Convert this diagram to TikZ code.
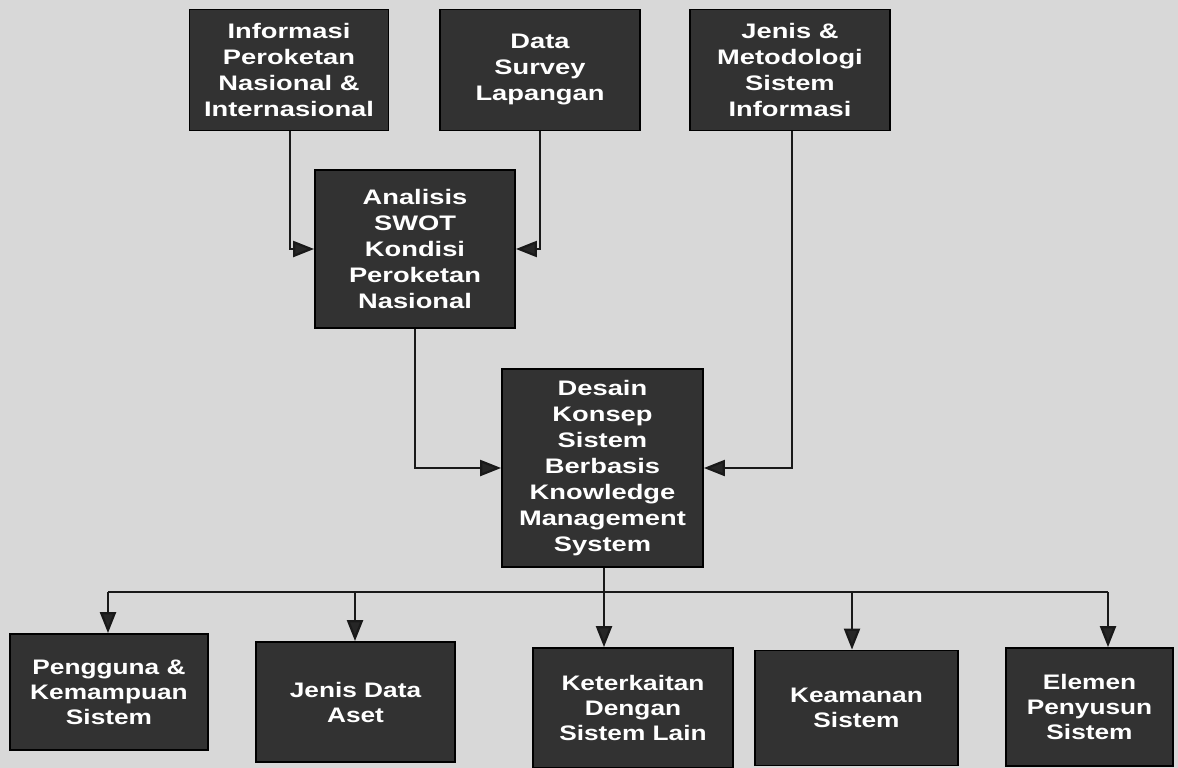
\documentclass[tikz,border=0pt]{standalone}
\usepackage{fontspec}
\setmainfont{Liberation Sans}
\newfontfamily\boxfont{Liberation Sans}[FakeStretch=1.3]
\newfontfamily\lowfont{Liberation Sans}[FakeStretch=1.25]
\usetikzlibrary{arrows.meta}
\definecolor{bg}{RGB}{216,216,216}
\definecolor{boxfill}{RGB}{50,50,50}
\begin{document}
\begin{tikzpicture}[x=1pt,y=-1pt,
  box/.style={draw=black, line width=1.8pt, fill=boxfill, text=white, align=center, inner sep=0pt,
    font=\fontsize{21}{26}\selectfont\boxfont\bfseries},
  lowbox/.style={box, font=\fontsize{21}{25}\selectfont\lowfont\bfseries},
  conn/.style={line width=2.2pt, draw=black!90},
  arr/.style={conn, -{Triangle[length=21pt,width=16pt,fill=black!85]}}]
\fill[bg] (0,0) rectangle (1178,768);
\useasboundingbox (0,0) rectangle (1178,768);

% top row
\node[box, minimum width=199pt, minimum height=121pt] (info) at (289,70) {Informasi\\Peroketan\\Nasional \&\\Internasional};
\node[box, minimum width=200pt, minimum height=121pt] (data) at (540,70) {Data\\Survey\\Lapangan};
\node[box, minimum width=200pt, minimum height=121pt] (jenis) at (790,70) {Jenis \&\\Metodologi\\Sistem\\Informasi};

% middle
\node[box, minimum width=200pt, minimum height=158pt] (swot) at (415,249) {Analisis\\SWOT\\Kondisi\\Peroketan\\Nasional};
\node[box, minimum width=201pt, minimum height=198pt] (desain) at (602.5,468) {Desain\\Konsep\\Sistem\\Berbasis\\Knowledge\\Management\\System};

% bottom row
\node[lowbox, minimum width=198pt, minimum height=116pt] (b1) at (109,692) {Pengguna \&\\Kemampuan\\Sistem};
\node[lowbox, minimum width=199pt, minimum height=120pt] (b2) at (355.5,702) {Jenis Data\\Aset};
\node[lowbox, minimum width=200pt, minimum height=120pt] (b3) at (633,708) {Keterkaitan\\Dengan\\Sistem Lain};
\node[lowbox, minimum width=203pt, minimum height=115pt] (b4) at (856.5,708) {Keamanan\\Sistem};
\node[lowbox, minimum width=167pt, minimum height=118pt] (b5) at (1089.5,707) {Elemen\\Penyusun\\Sistem};

% connectors top -> middle
\draw[arr] (info.south -| 290,0) |- (swot.west);
\draw[arr] (data.south) |- (swot.east);
\draw[arr] (swot.south) |- (desain.west);
\draw[arr] (jenis.south -| 792,0) |- (desain.east);

% bus
\coordinate (bus) at (604,592);
\coordinate (t1) at (108,592);
\coordinate (t2) at (355,592);
\coordinate (t3) at (604,592);
\coordinate (t4) at (852,592);
\coordinate (t5) at (1108,592);
\draw[conn] (desain.south -| bus) -- (bus);
\draw[conn] (t1) -- (t5);
\draw[arr] (t1) -- (t1 |- b1.north);
\draw[arr] (t2) -- (t2 |- b2.north);
\draw[arr] (t3) -- (t3 |- b3.north);
\draw[arr] (t4) -- (t4 |- b4.north);
\draw[arr] (t5) -- (t5 |- b5.north);
\end{tikzpicture}
\end{document}
